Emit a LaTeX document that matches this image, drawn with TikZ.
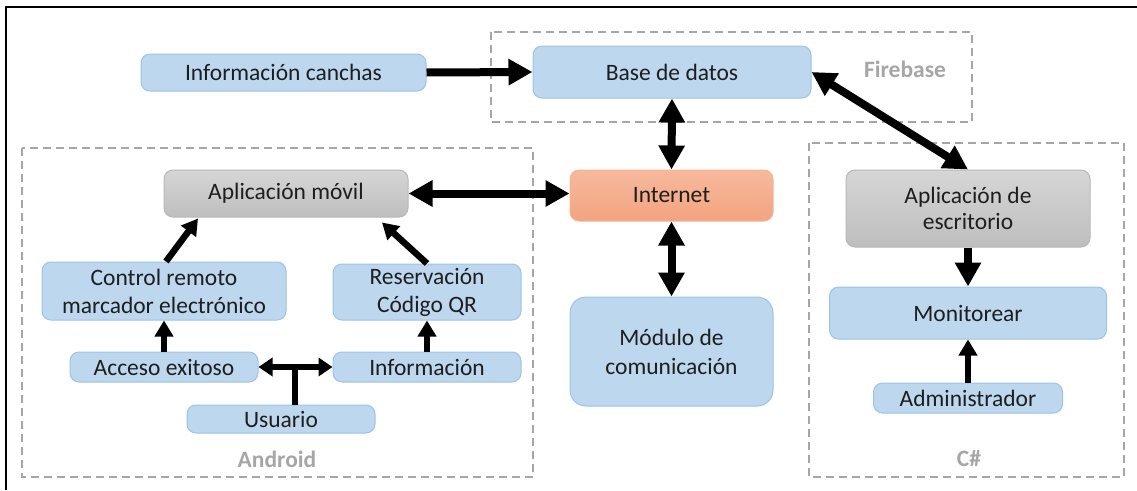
\documentclass[tikz,border=0pt]{standalone}
\usepackage{fontspec}
\setmainfont{Carlito}
\usetikzlibrary{arrows.meta}
\definecolor{bfill}{HTML}{BDD7EE}
\definecolor{bdraw}{HTML}{9DC3E6}
\definecolor{gtop}{HTML}{D6D6D6}
\definecolor{gbot}{HTML}{BEBEBE}
\definecolor{gdraw}{HTML}{B8B8B8}
\definecolor{otop}{HTML}{F7B99D}
\definecolor{obot}{HTML}{F2A47F}
\definecolor{odraw}{HTML}{F4B49A}
\definecolor{lblgray}{HTML}{A6A6A6}
\definecolor{txt}{HTML}{1E1E1E}
\begin{document}
\begin{tikzpicture}[x=1pt,y=-1pt,
  base/.style={rounded corners=9pt, line width=1pt, align=center, inner sep=0pt,
    text=txt, font=\fontsize{23.5}{28}\selectfont},
  bbox/.style={base, draw=bdraw, fill=bfill},
  gbox/.style={base, draw=gdraw, top color=gtop, bottom color=gbot},
  obox/.style={base, draw=odraw, top color=otop, bottom color=obot},
  grp/.style={draw=lblgray, line width=2pt, dash pattern=on 8pt off 5pt},
  grplbl/.style={text=lblgray, font=\fontsize{23.5}{28}\selectfont\bfseries},
  big/.style={line width=8pt, -{Triangle[length=24pt,width=25pt]}},
  bigd/.style={line width=8pt, {Triangle[length=24pt,width=25pt]}-{Triangle[length=24pt,width=25pt]}},
  sml/.style={line width=6.5pt, -{Triangle[length=16pt,width=18pt]}},
  smld/.style={line width=6.5pt, {Triangle[length=14pt,width=18pt]}-{Triangle[length=14pt,width=18pt]}},
]
\useasboundingbox (0,0) rectangle (1137,490);
\fill[white] (0,0) rectangle (1137,490);
% frame
\draw[line width=2.6pt] (6,490) -- (6,7) -- (1137,7);
% groups
\draw[grp] (491,32) rectangle (972,122);
\draw[grp] (22,148) rectangle (533,477);
\draw[grp] (809,143) rectangle (1124,477);
\node[grplbl] (lfb) at (905,69) {Firebase};
\node[grplbl] (lan) at (277,459) {Android};
\node[grplbl] (lcs) at (969,459) {C\#};
% nodes
\node[bbox, minimum width=285pt, minimum height=37pt] (ic) at (283.5,72.5) {Información canchas};
\node[bbox, minimum width=278pt, minimum height=52pt] (bd) at (672,72) {Base de datos};
\node[obox, minimum width=203pt, minimum height=51pt] (int) at (671.5,195.5) {Internet};
\node[bbox, rounded corners=16pt, minimum width=203pt, minimum height=109pt, font=\fontsize{23.5}{29}\selectfont] (mod) at (671.5,351.5) {Módulo de\\comunicación};
\node[gbox, minimum width=244pt, minimum height=47pt] (am) at (286,193.5) {Aplicación móvil};
\node[bbox, minimum width=244pt, minimum height=58pt] (ctrl) at (164,291) {Control remoto\\marcador electrónico};
\node[bbox, minimum width=188pt, minimum height=56pt] (res) at (427,292) {Reservación\\Código QR};
\node[bbox, minimum width=188pt, minimum height=30pt] (ae) at (164,367) {Acceso exitoso};
\node[bbox, minimum width=188pt, minimum height=30pt] (inf) at (427,367) {Información};
\node[bbox, minimum width=188pt, minimum height=28pt] (us) at (281,419) {Usuario};
\node[gbox, minimum width=244pt, minimum height=77pt, font=\fontsize{23.5}{26}\selectfont] (ade) at (968,208.5) {Aplicación de\\escritorio};
\node[bbox, minimum width=277pt, minimum height=52pt] (mon) at (968,313) {Monitorear};
\node[bbox, minimum width=189pt, minimum height=30pt] (adm) at (968,398) {Administrador};
% connectors
\draw[big] (ic.east) -- (bd.west);
\draw[bigd] (bd.south) -- (int.north);
\draw[bigd] (int.south) -- (mod.north);
\draw[bigd] (am.east) -- (am.east -| int.west);
\draw[bigd] (bd.east) -- (ade.north);
\draw[big] (ade.south) -- (mon.north);
\draw[sml] (adm.north) -- (mon.south);
\draw[sml] ([xshift=2pt]ctrl.north) -- ([xshift=-88pt,yshift=-1pt]am.south);
\draw[sml] (res.north) -- ([xshift=96pt,yshift=-5pt]am.south);
\draw[sml] (ae.north) -- (ctrl.south);
\draw[sml] (inf.north) -- (res.south);
\coordinate (tj) at (295,367);
\draw[line width=6.5pt] (us.north -| tj) -- ([yshift=-3.25pt]tj);
\draw[smld] (ae.east) -- (inf.west);
\end{tikzpicture}
\end{document}
